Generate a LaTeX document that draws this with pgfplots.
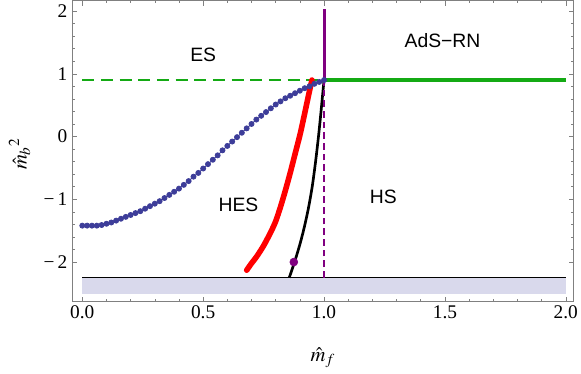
\documentclass[border=0pt]{standalone}
\usepackage{mathptmx}
\usepackage{fontspec}
\setmainfont{Liberation Serif}
\newfontfamily\lsans{Liberation Sans}
\usepackage{pgfplots}
\pgfplotsset{compat=1.18}
\definecolor{mblue}{RGB}{61,61,153}
\definecolor{mgreen}{RGB}{20,170,20}
\definecolor{mpurple}{RGB}{128,0,128}
\definecolor{lav}{RGB}{217,217,236}
\definecolor{mred}{RGB}{255,0,0}
\begin{document}
\begin{tikzpicture}
\begin{axis}[
  scale only axis,
  width=375.9pt, height=225.9pt,
  xmin=-0.0414, xmax=2.032,
  ymin=-2.633, ymax=2.167,
  xtick={0,0.5,1,1.5,2},
  xticklabels={0.0,0.5,1.0,1.5,2.0},
  ytick={-2,-1,0,1,2},
  yticklabels={−\,2,−\,1,0,1,2},
  minor x tick num=4,
  minor y tick num=4,
  tick align=inside,
  major tick length=3.75pt,
  minor tick length=2pt,
  axis line style={gray},
  every tick/.style={gray},
  tick label style={font=\fontsize{14.5}{15}\selectfont, black},
  xticklabel style={inner sep=2.5pt},
  yticklabel style={inner sep=3.5pt},
  xlabel={$\hat{m}_f$},
  ylabel={$\hat{m}_b{}^{2}$},
  x label style={at={(axis description cs:0.5,-0.185)}, anchor=center, inner sep=0pt, outer sep=0pt, font=\fontsize{15.5}{16}\selectfont},
  y label style={at={(axis description cs:-0.105,0.49)}, anchor=center, rotate=0, inner sep=0pt, font=\fontsize{15.5}{16}\selectfont},
  clip=true,
]
% shaded band
\addplot[fill=lav, draw=none] coordinates {(0,-2.25) (2,-2.25) (2,-2.51) (0,-2.51)} -- cycle;
\addplot[black, line width=1.1pt] coordinates {(0,-2.25) (2,-2.25)};
% green dashed
\addplot[mgreen, line width=1.2pt, dash pattern=on 9pt off 5pt] coordinates {(0,0.9) (1,0.9)};
% blue dotted curve
\addplot[mblue, line width=0.6pt, mark=*, mark size=1.9pt, mark options={fill=mblue, draw=mblue}] coordinates {
(0.00,-1.42) (0.02,-1.42) (0.04,-1.42) (0.06,-1.42) (0.08,-1.41) (0.10,-1.39)
(0.12,-1.37) (0.14,-1.34) (0.16,-1.31) (0.18,-1.28) (0.20,-1.25) (0.22,-1.22)
(0.24,-1.19) (0.26,-1.15) (0.28,-1.11) (0.30,-1.07) (0.32,-1.03) (0.34,-0.98)
(0.36,-0.93) (0.38,-0.88) (0.40,-0.83) (0.42,-0.77) (0.44,-0.71) (0.46,-0.64)
(0.48,-0.58) (0.50,-0.51) (0.52,-0.44) (0.54,-0.37) (0.56,-0.30) (0.58,-0.22)
(0.60,-0.15) (0.62,-0.08) (0.64,-0.01) (0.66,0.06) (0.68,0.13) (0.70,0.20)
(0.72,0.27) (0.74,0.33) (0.76,0.39) (0.78,0.45) (0.80,0.51) (0.82,0.56)
(0.84,0.61) (0.86,0.65) (0.88,0.69) (0.90,0.73) (0.92,0.77) (0.94,0.80)
(0.96,0.84) (0.98,0.87) (1.00,0.90)};
% red curve
\addplot[mred, line width=4.2pt, line cap=round, line join=round, smooth] coordinates {
(0.680,-2.13) (0.700,-2.02) (0.720,-1.92) (0.750,-1.74) (0.780,-1.52)
(0.800,-1.35) (0.820,-1.12) (0.840,-0.86) (0.860,-0.58) (0.880,-0.28)
(0.900,0.02) (0.915,0.28) (0.930,0.55) (0.940,0.73) (0.950,0.90)};
% black curve
\addplot[black, line width=2pt, smooth] coordinates {
(0.856,-2.25) (0.878,-2.00) (0.900,-1.72) (0.918,-1.45) (0.935,-1.15)
(0.951,-0.80) (0.965,-0.40) (0.977,0.00) (0.985,0.30) (0.992,0.58) (1.000,0.90)};
% purple dashed vertical
\addplot[mpurple, line width=1.1pt, dash pattern=on 5pt off 3pt] coordinates {(1,-2.25) (1,0.9)};
% purple solid vertical
\addplot[mpurple, line width=2.2pt] coordinates {(1,0.9) (1,2.03)};
% green solid
\addplot[mgreen, line width=3pt] coordinates {(1,0.9) (2,0.9)};
% purple dot
\addplot[only marks, mark=*, mark size=3pt, mark options={fill=mpurple, draw=mpurple}] coordinates {(0.875,-2.0)};
% labels
\node[font=\lsans\fontsize{14.5}{15}\selectfont] at (axis cs:0.50,1.30) {ES};
\node[font=\lsans\fontsize{14.5}{15}\selectfont] at (axis cs:1.49,1.53) {AdS−RN};
\node[font=\lsans\fontsize{14.5}{15}\selectfont] at (axis cs:0.646,-1.09) {HES};
\node[font=\lsans\fontsize{14.5}{15}\selectfont] at (axis cs:1.245,-0.96) {HS};
\end{axis}
\pgfresetboundingbox
\path ([xshift=-54.2pt,yshift=-53.5pt]current axis.south west) rectangle ([xshift=5.6pt,yshift=0.4pt]current axis.north east);
\end{tikzpicture}
\end{document}
